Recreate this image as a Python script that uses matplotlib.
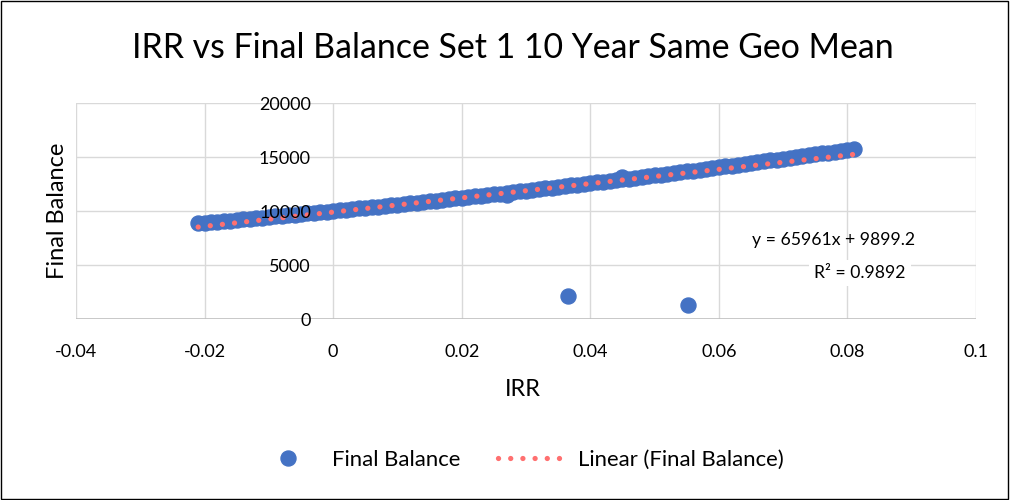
import matplotlib
matplotlib.use("Agg")
import matplotlib.pyplot as plt
from matplotlib.lines import Line2D
from matplotlib.patches import Rectangle

plt.rcParams['font.family'] = ['Lato', 'DejaVu Sans']

title = "IRR vs Final Balance Set 1 10 Year Same Geo Mean"
x_label = "IRR"
y_label = "Final Balance"
series_name = "Final Balance"
trend_name = "Linear (Final Balance)"

irr = [-0.021, -0.020, -0.019, -0.018, -0.017, -0.016, -0.015, -0.014, -0.013, -0.012,
       -0.011, -0.010, -0.009, -0.008, -0.007, -0.006, -0.005, -0.004, -0.003, -0.002,
       -0.001, 0.000, 0.001, 0.002, 0.003, 0.004, 0.005, 0.006, 0.007, 0.008,
       0.009, 0.010, 0.011, 0.012, 0.013, 0.014, 0.015, 0.016, 0.017, 0.018,
       0.019, 0.020, 0.021, 0.022, 0.023, 0.024, 0.025, 0.026, 0.027, 0.028,
       0.029, 0.030, 0.031, 0.032, 0.033, 0.034, 0.035, 0.036, 0.037, 0.038,
       0.039, 0.040, 0.041, 0.042, 0.043, 0.044, 0.045, 0.046, 0.047, 0.048,
       0.049, 0.050, 0.051, 0.052, 0.053, 0.054, 0.055, 0.056, 0.057, 0.058,
       0.059, 0.060, 0.061, 0.062, 0.063, 0.064, 0.065, 0.066, 0.067, 0.068,
       0.069, 0.070, 0.071, 0.072, 0.073, 0.074, 0.075, 0.076, 0.077, 0.078,
       0.079, 0.080, 0.081,
       0.027, 0.045, 0.0365, 0.0552]
balance = [8853, 8904, 8956, 9008, 9060, 9113, 9166, 9219, 9273, 9327,
           9381, 9436, 9491, 9546, 9602, 9658, 9714, 9771, 9827, 9885,
           9942, 10000, 10058, 10117, 10175, 10235, 10294, 10354, 10414, 10474,
           10535, 10596, 10657, 10719, 10781, 10843, 10906, 10969, 11032, 11096,
           11160, 11224, 11289, 11353, 11419, 11484, 11550, 11616, 11683, 11749,
           11817, 11884, 11952, 12020, 12088, 12157, 12226, 12295, 12365, 12435,
           12505, 12576, 12647, 12718, 12790, 12862, 12934, 13007, 13079, 13153,
           13226, 13300, 13374, 13449, 13523, 13599, 13674, 13750, 13826, 13902,
           13979, 14056, 14133, 14211, 14289, 14367, 14446, 14525, 14604, 14684,
           14764, 14844, 14925, 15005, 15087, 15168, 15250, 15332, 15415, 15497,
           15581, 15664, 15748,
           11450, 13150, 2150, 1300]

slope = 65961
intercept = 9899.2
r_squared = 0.9892

x_ticks = [-0.04, -0.02, 0, 0.02, 0.04, 0.06, 0.08, 0.1]
x_tick_labels = ["-0.04", "-0.02", "0", "0.02", "0.04", "0.06", "0.08", "0.1"]
y_ticks = [0, 5000, 10000, 15000, 20000]
y_tick_labels = ["0", "5000", "10000", "15000", "20000"]

blue = '#4472C4'
red = '#FF7070'
grid_color = '#D9D9D9'

fig = plt.figure(figsize=(10.1, 5.0), dpi=100)
fig.patches.append(Rectangle((0.001, 0.002), 0.997, 0.996, transform=fig.transFigure,
                             fill=False, edgecolor='black', linewidth=1.0))

ax = fig.add_axes([76/1010, 1 - 319/500, 900/1010, 216/500])
ax.set_xlim(-0.04, 0.1)
ax.set_ylim(0, 20000)
for s in ['top', 'right', 'bottom']:
    ax.spines[s].set_visible(False)
ax.spines['left'].set_position(('data', 0))
ax.spines['left'].set_visible(False)

ax.set_xticks(x_ticks)
ax.set_xticklabels(x_tick_labels)
ax.set_yticks(y_ticks)
ax.set_yticklabels(y_tick_labels)
ax.tick_params(axis='x', length=0, pad=18, labelsize=13)
ax.tick_params(axis='y', length=0, pad=16, labelsize=13)
ax.set_axisbelow(True)
ax.grid(True, axis='x', color=grid_color, linewidth=1.0)
for yt in y_ticks[1:]:
    ax.axhline(yt, color=grid_color, linewidth=1.0, zorder=0.6)
ax.axhline(0, color='#BFBFBF', linewidth=1.2, zorder=1)
ax.yaxis.set_zorder(6)

ax.plot(irr, balance, linestyle='none', marker='o', markersize=10.8,
        color=blue, zorder=3)

dot_style = (0, (0.01, 2.3))
xmin, xmax = min(irr), max(irr)
ax.plot([xmin, xmax], [slope * xmin + intercept, slope * xmax + intercept],
        color=red, linewidth=3.8, linestyle=dot_style,
        dash_capstyle='round', zorder=4)

fig.text(915/1010, 1 - 240/500, f"y = {slope}x + {intercept}",
         ha='right', va='center', fontsize=12.7, zorder=5)
fig.text(906/1010, 1 - 273/500, f"R² = {r_squared}",
         ha='right', va='center', fontsize=12.7, zorder=5,
         bbox=dict(boxstyle='square,pad=0.3', facecolor='white', edgecolor='none'))

fig.text(513/1010, 1 - 48/500, title, ha='center', va='center', fontsize=24.4)
fig.text(58/1010, 1 - 211/500, y_label, ha='center', va='center', rotation=90, fontsize=17)
fig.text(523/1010, 1 - 390/500, x_label, ha='center', va='center', fontsize=17)

handles = [Line2D([], [], linestyle='none', marker='o', markersize=10.8, color=blue),
           Line2D([], [], color=red, linewidth=3.8, linestyle=dot_style,
                  dash_capstyle='round')]
fig.legend(handles, [series_name, trend_name], loc='center', bbox_to_anchor=(518/1010, 1 - 460/500),
           ncol=2, frameon=False, fontsize=15.9, handlelength=3.2, columnspacing=1.7,
           handletextpad=0.4)

fig.savefig('out.png', dpi=100)
